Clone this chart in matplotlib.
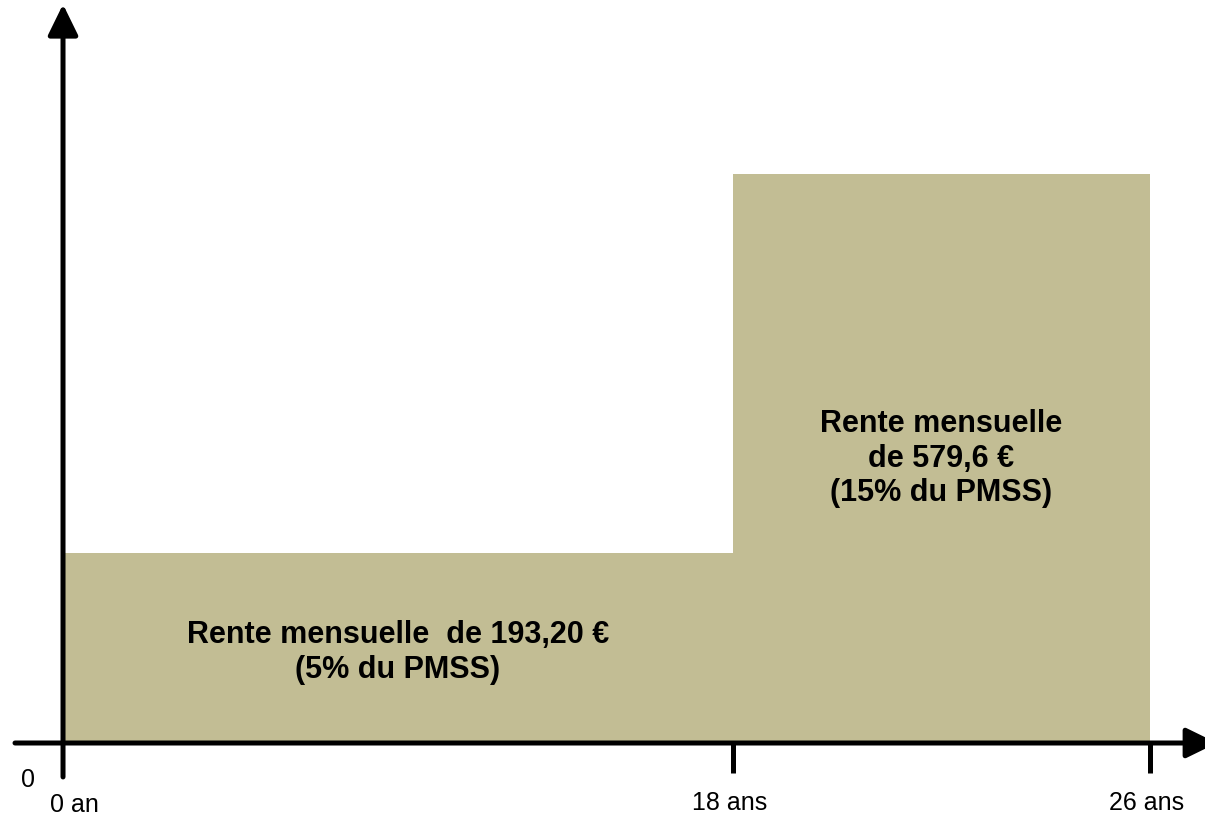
import matplotlib
matplotlib.use("Agg")
from matplotlib import pyplot as plt

plt.rcParams['font.family'] = ['Liberation Sans', 'DejaVu Sans']

########## data ###################
ages = [0, 18, 26]                       # age boundaries (years)
age_labels = ['0 an', '18 ans', '26 ans']
rentes = [193.20, 579.6]                 # monthly annuity (EUR)
bar_texts = ['Rente mensuelle  de 193,20 €\n(5% du PMSS)',
             'Rente mensuelle\nde 579,6 €\n(15% du PMSS)']
########## layout (chart is not drawn to scale on x) ##########
x_pos = [0, 18, 29.2]                    # where each age boundary sits on the axis
bar_color = '#C2BD94'
####################################

fig = plt.figure(figsize=(12.05, 8.18), dpi=100)
ax = fig.add_axes([0, 0, 1, 1])
ax.set_xlim(-1.693, 30.68)
ax.set_ylim(-76.4, 756.9)
ax.axis('off')

# bars
for k in range(len(rentes)):
    left = x_pos[k]
    width = x_pos[k + 1] - x_pos[k]
    ax.bar(left, rentes[k], width=width, align='edge', color=bar_color,
           edgecolor='none', zorder=1)

# texts in the bars
ax.text((x_pos[0] + x_pos[1]) / 2, 92.0, bar_texts[0], ha='center', va='center',
        fontsize=22, fontweight='bold', zorder=3)
ax.text((x_pos[1] + x_pos[2]) / 2, 289.5, bar_texts[1], ha='center', va='center',
        fontsize=22, fontweight='bold', zorder=3)

# axes with arrows
arrow = dict(arrowstyle='-|>,head_length=0.47,head_width=0.23', lw=3.6,
             color='black', mutation_scale=40, shrinkA=0, shrinkB=0)
ax.annotate('', xy=(31.0, 0), xytext=(-1.29, 0), arrowprops=arrow,
            annotation_clip=False, zorder=4)
ax.annotate('', xy=(0, 752.5), xytext=(0, -34.6), arrowprops=arrow,
            annotation_clip=False, zorder=4)

# ticks at 18 and 26
for p in x_pos[1:]:
    ax.plot([p, p], [0, -30.6], color='black', lw=3.6, solid_capstyle='butt', zorder=4)

# labels
ax.text(-0.94, -37.5, '0', ha='center', va='center', fontsize=18)
ax.text(0.32, -63, age_labels[0], ha='center', va='center', fontsize=18)
for p, lab in zip(x_pos[1:], age_labels[1:]):
    ax.text(p - 0.08, -61, lab, ha='center', va='center', fontsize=18)

fig.savefig('out.png', dpi=100)
